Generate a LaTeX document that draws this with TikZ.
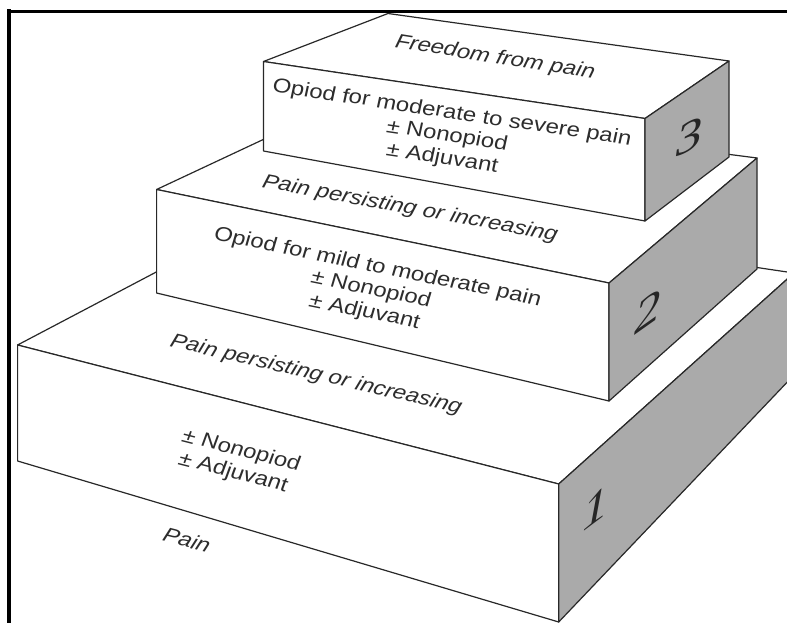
\documentclass[tikz,border=0pt]{standalone}
\usepackage{fontspec}
\setmainfont{Liberation Sans}
\newfontfamily\digitfont{Liberation Serif}
\definecolor{sidegray}{RGB}{170,170,170}
\definecolor{edgecol}{RGB}{40,40,40}
\definecolor{txtcol}{RGB}{45,45,45}
\tikzset{
  face/.style={fill=white, draw=edgecol, line width=1.2pt, line join=round},
  sideface/.style={fill=sidegray, draw=edgecol, line width=1.2pt, line join=round},
  lbl/.style={font=\fontsize{20}{23}\selectfont, text=txtcol, inner sep=0pt, align=center, xscale=1.2},
  ilbl/.style={lbl, font=\fontsize{20}{23}\selectfont\itshape},
  numeral/.style={font=\fontsize{44}{44}\selectfont\itshape\digitfont, text=black!85, inner sep=0pt, xscale=1.2},
  frameline/.style={black, line cap=rect}
}
\begin{document}
\begin{tikzpicture}[x=1pt,y=-1pt]
\useasboundingbox (0,0) rectangle (787,623);
\clip (0,0) rectangle (787,623);
\fill[white] (0,0) rectangle (787,623);
% ---------- box 1 ----------
\coordinate (A1) at (17.6,345);
\coordinate (B1) at (558.7,484);
\coordinate (C1) at (794,273);
\coordinate (D1) at (295,199);
\coordinate (E1) at (17.6,461);
\coordinate (F1) at (558.7,622);
\coordinate (G1) at (794,375);
\draw[face] (A1) -- (B1) -- (C1) -- (D1) -- cycle;
\draw[face] (A1) -- (B1) -- (F1) -- (E1) -- cycle;
\draw[sideface] (B1) -- (C1) -- (G1) -- (F1) -- cycle;
% ---------- box 2 ----------
\coordinate (A2) at (156.6,189.5);
\coordinate (B2) at (609,283);
\coordinate (C2) at (757,158);
\coordinate (D2) at (339,104);
\coordinate (E2) at (156.6,293);
\coordinate (F2) at (609,401);
\coordinate (G2) at (757,269);
\draw[face] (A2) -- (B2) -- (C2) -- (D2) -- cycle;
\draw[face] (A2) -- (B2) -- (F2) -- (E2) -- cycle;
\draw[sideface] (B2) -- (C2) -- (G2) -- (F2) -- cycle;
% ---------- box 3 ----------
\coordinate (A3) at (263.5,61.5);
\coordinate (B3) at (645,118.5);
\coordinate (C3) at (729,61);
\coordinate (D3) at (388,13.5);
\coordinate (E3) at (263.5,151);
\coordinate (F3) at (645,221);
\coordinate (G3) at (729,157);
\draw[face] (A3) -- (B3) -- (C3) -- (D3) -- cycle;
\draw[face] (A3) -- (B3) -- (F3) -- (E3) -- cycle;
\draw[sideface] (B3) -- (C3) -- (G3) -- (F3) -- cycle;
% ---------- texts ----------
\node[ilbl, rotate=-10.8] (freedom) at (495,58) {Freedom from pain};
\node[lbl, rotate=-10.2] (step3) at (447,136) {Opiod for moderate to severe pain\\± Nonopiod\\± Adjuvant};
\node[ilbl, rotate=-12.4] (persist2) at (410,209) {Pain persisting or increasing};
\node[lbl, rotate=-13.7] (step2) at (371,290) {Opiod for mild to moderate pain\\± Nonopiod\\± Adjuvant};
\node[ilbl, rotate=-15.5] (persist1) at (316,375) {Pain persisting or increasing};
\node[lbl, rotate=-17] (step1) at (237,462) {± Nonopiod\\± Adjuvant};
\node[ilbl, rotate=-17] (pain) at (187,540) {Pain};
% ---------- numerals ----------
\node[numeral, yslant=0.6] (n3) at (690,137) {3};
\node[numeral, yslant=0.85] (n2) at (648,312) {2};
\node[numeral, yslant=0.9] (n1) at (596,508) {1};
% ---------- frame ----------
\coordinate (frTL) at (9,11.5);
\coordinate (frBL) at (9,640);
\coordinate (frTR) at (800,11.5);
\draw[frameline, line width=4pt] (frBL) -- (frTL);
\draw[frameline, line width=3.3pt] (frTL) -- (frTR);
\end{tikzpicture}
\end{document}
